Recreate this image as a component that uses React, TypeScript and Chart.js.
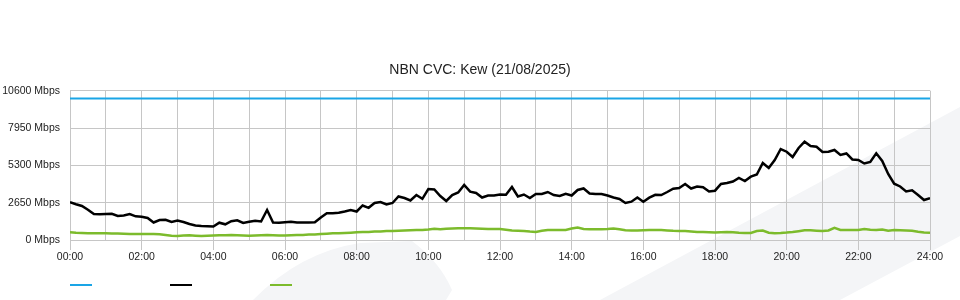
import React, { useEffect, useRef } from "react";
import { Chart, registerables } from "chart.js";

Chart.register(...registerables);

const TITLE = "NBN CVC: Kew (21/08/2025)";
const STEP_MINUTES = 10;
const HOURS = [0, 1, 2, 3, 4, 5, 6, 7, 8, 9, 10, 11, 12, 13, 14, 15, 16, 17, 18, 19, 20, 21, 22, 23, 24];
const Y_TICKS = [0, 2650, 5300, 7950, 10600];
const CAPACITY = 10050;

// Download (black) in Mbps, every 10 minutes from 00:00 to 24:00
const DOWNLOAD = [
  2677, 2535, 2414, 2151, 1846, 1825, 1846, 1860, 1704, 1740,
  1846, 1683, 1654, 1562, 1243, 1420, 1434, 1278, 1385, 1278,
  1136, 1030, 994, 973, 959, 1228, 1115, 1335, 1399, 1207,
  1292, 1370, 1314, 2130, 1243, 1228, 1264, 1292, 1243, 1243,
  1243, 1257, 1598, 1896, 1896, 1931, 2024, 2130, 2024, 2450,
  2286, 2627, 2698, 2521, 2627, 3089, 2982, 2805, 3195, 2925,
  3621, 3586, 3124, 2769, 3195, 3373, 3905, 3429, 3337, 3018,
  3160, 3160, 3231, 3209, 3763, 3089, 3231, 2982, 3266, 3266,
  3408, 3195, 3124, 3280, 3160, 3550, 3657, 3302, 3266, 3266,
  3160, 3018, 2911, 2627, 2719, 3018, 2719, 3003, 3209, 3195,
  3408, 3642, 3692, 3976, 3657, 3799, 3742, 3444, 3500, 3976,
  4047, 4154, 4402, 4189, 4494, 4651, 5467, 5112, 5680, 6461,
  6269, 5893, 6532, 6979, 6674, 6624, 6248, 6269, 6390, 6035,
  6142, 5716, 5680, 5432, 5538, 6156, 5609, 4686, 3997, 3799,
  3444, 3529, 3195, 2840, 2961,
];

// Upload (green) in Mbps
const UPLOAD = [
  547, 511, 497, 476, 476, 476, 476, 454, 462, 440,
  426, 426, 426, 426, 419, 405, 348, 298, 284, 312,
  334, 305, 284, 298, 312, 334, 341, 355, 341, 327,
  305, 320, 341, 355, 334, 320, 312, 334, 348, 362,
  383, 398, 426, 447, 476, 476, 497, 518, 547, 561,
  575, 596, 611, 632, 646, 660, 682, 696, 703, 710,
  746, 802, 760, 795, 824, 831, 831, 831, 824, 802,
  788, 781, 781, 731, 675, 653, 639, 596, 575, 653,
  710, 710, 710, 710, 817, 888, 781, 767, 760, 767,
  781, 824, 767, 696, 667, 682, 696, 703, 710, 703,
  675, 653, 646, 639, 604, 568, 568, 547, 533, 554,
  568, 547, 518, 504, 497, 639, 675, 518, 483, 497,
  525, 568, 625, 689, 689, 660, 639, 675, 866, 710,
  710, 710, 710, 781, 724, 710, 746, 653, 710, 696,
  675, 653, 582, 533, 518,
];

const COLORS = { capacity: "#1aa5e6", download: "#000000", upload: "#7cbb2c" };
const FONT = "'Liberation Sans', Arial, Helvetica, sans-serif";

const pad2 = (n: number) => (n < 10 ? "0" + n : "" + n);

const watermark = {
  id: "watermark",
  beforeDraw(chart: any) {
    const ctx = chart.ctx;
    ctx.save();
    ctx.fillStyle = "#f4f5f7";
    ctx.beginPath();
    ctx.moveTo(600, 300);
    ctx.lineTo(960, 107);
    ctx.lineTo(960, 236);
    ctx.lineTo(840, 300);
    ctx.closePath();
    ctx.fill();
    ctx.beginPath();
    ctx.moveTo(253, 300);
    ctx.quadraticCurveTo(300, 252, 360, 243);
    ctx.lineTo(412, 241);
    ctx.quadraticCurveTo(440, 262, 452, 290);
    ctx.lineTo(446, 300);
    ctx.closePath();
    ctx.fill();
    ctx.restore();
  },
};

const lineLegend = {
  id: "lineLegend",
  afterDraw(chart: any) {
    const ctx = chart.ctx;
    const left = chart.chartArea.left;
    ctx.save();
    chart.data.datasets.forEach((ds: any, i: number) => {
      ctx.strokeStyle = ds.borderColor;
      ctx.lineWidth = 2;
      ctx.beginPath();
      ctx.moveTo(left + i * 100, 285);
      ctx.lineTo(left + i * 100 + 22, 285);
      ctx.stroke();
    });
    ctx.restore();
  },
};

export default function App() {
  const ref = useRef<HTMLCanvasElement | null>(null);

  useEffect(() => {
    if (!ref.current) return;
    const times = DOWNLOAD.map((_, i) => (i * STEP_MINUTES) / 60);
    const chart = new Chart(ref.current, {
      type: "line",
      data: {
        labels: times,
        datasets: [
          {
            label: "Capacity",
            data: [
              { x: HOURS[0], y: CAPACITY },
              { x: HOURS[HOURS.length - 1], y: CAPACITY },
            ],
            borderColor: COLORS.capacity,
            backgroundColor: COLORS.capacity,
            borderWidth: 2,
            pointRadius: 0,
          },
          {
            label: "Download",
            data: DOWNLOAD,
            borderColor: COLORS.download,
            backgroundColor: COLORS.download,
            borderWidth: 2.5,
            pointRadius: 0,
          },
          {
            label: "Upload",
            data: UPLOAD,
            borderColor: COLORS.upload,
            backgroundColor: COLORS.upload,
            borderWidth: 2.5,
            pointRadius: 0,
          },
        ],
      },
      options: {
        responsive: false,
        animation: false,
        layout: { padding: { left: 0, right: 0, top: 0, bottom: 0 } },
        plugins: {
          legend: { display: false },
          tooltip: { enabled: false },
          title: {
            display: true,
            text: TITLE,
            color: "#222",
            font: { family: FONT, size: 14, weight: "normal" },
            padding: { top: 61.6, bottom: 12.3 },
          },
        },
        scales: {
          x: {
            type: "linear",
            min: HOURS[0],
            max: HOURS[HOURS.length - 1],
            afterBuildTicks: (scale: any) => {
              scale.ticks = HOURS.map((h) => ({ value: h }));
            },
            afterFit: (scale: any) => {
              scale.height = 60;
            },
            ticks: {
              autoSkip: false,
              maxRotation: 0,
              padding: 1,
              color: "#222",
              font: { family: FONT, size: 10.5 },
              callback: (v: any) => (Number(v) % 2 === 0 ? pad2(Number(v)) + ":00" : ""),
            },
            grid: {
              color: "#c6c6c6",
              lineWidth: 1,
              tickLength: 10,
              tickColor: (ctx: any) =>
                ctx.tick && Number(ctx.tick.value) % 2 === 0 ? "#c6c6c6" : "rgba(0,0,0,0)",
            },
            border: { color: "#c6c6c6" },
          },
          y: {
            min: Y_TICKS[0],
            max: Y_TICKS[Y_TICKS.length - 1],
            afterBuildTicks: (scale: any) => {
              scale.ticks = Y_TICKS.map((v) => ({ value: v }));
            },
            afterFit: (scale: any) => {
              scale.width = 70;
            },
            ticks: {
              padding: 10,
              color: "#222",
              font: { family: FONT, size: 10.5 },
              callback: (v: any) => v + " Mbps",
            },
            grid: { color: "#c6c6c6", lineWidth: 1, drawTicks: false },
            border: { color: "#c6c6c6" },
          },
          yRight: {
            position: "right",
            min: Y_TICKS[0],
            max: Y_TICKS[Y_TICKS.length - 1],
            afterFit: (scale: any) => {
              scale.width = 30;
            },
            ticks: { display: false },
            grid: { display: false, drawOnChartArea: false },
            border: { display: false },
          },
        },
      },
      plugins: [watermark, lineLegend],
    } as any);
    return () => chart.destroy();
  }, []);

  return (
    <div style={{ position: "absolute", left: 0, top: 0, width: 960, height: 300, background: "#fff" }}>
      <canvas ref={ref} width={960} height={300} style={{ display: "block" }} />
    </div>
  );
}
